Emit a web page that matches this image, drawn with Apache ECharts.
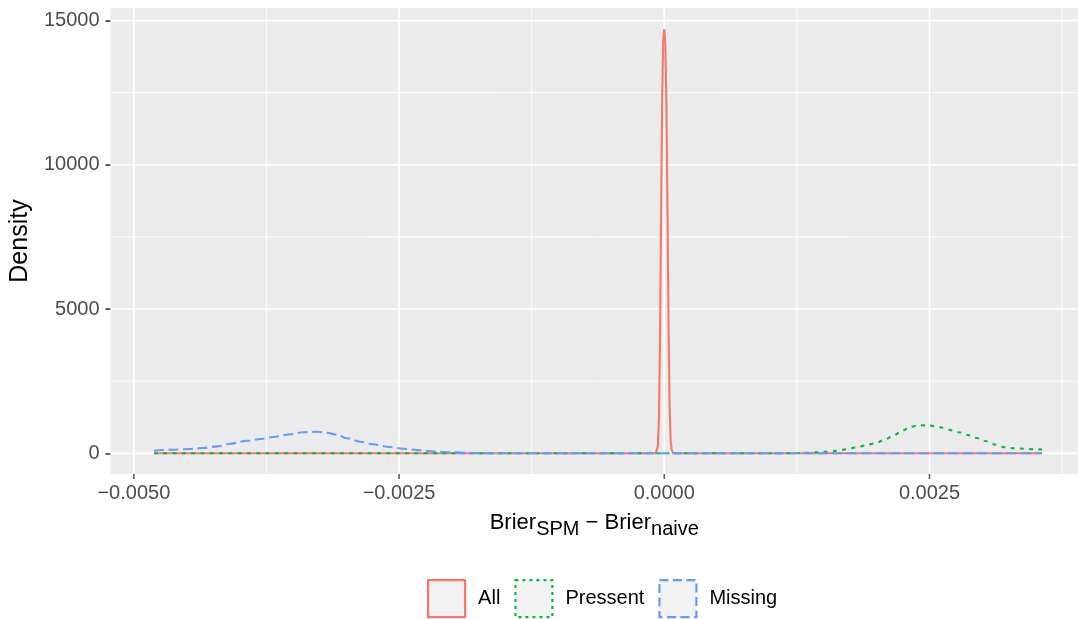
<!DOCTYPE html>
<html>
<head>
<meta charset="utf-8">
<script src="https://cdn.jsdelivr.net/npm/echarts@6/dist/echarts.min.js"></script>
<style>
html,body{margin:0;padding:0;background:#fff;}
#chart{width:1078px;height:619px;}
</style>
</head>
<body>
<div id="chart"></div>
<script>
// ---- data ----
const seriesNames = ['All', 'Pressent', 'Missing'];
const seriesColors = ['#F8766D', '#00BA38', '#619CFF'];

const allX = [-0.00481, -0.0001, -0.00008, -0.00007, -0.00006, -0.00005, -0.00004, -0.00003, -0.00002, -0.00001, 0, 0.00001, 0.00002, 0.00003, 0.00004, 0.00005, 0.00006, 0.00007, 0.00008, 0.00009, 0.0001, 0.00356];
const allY = [0, 0, 5, 40, 250, 1200, 4000, 8300, 12200, 14300, 14700, 14200, 12100, 8600, 4600, 1700, 450, 110, 30, 8, 0, 0];

const presX = [-0.00481, 0.00100, 0.001153, 0.001248, 0.001342, 0.001436, 0.001530, 0.001624, 0.001719, 0.001813, 0.001900, 0.001988, 0.002073, 0.002158, 0.002240, 0.002320, 0.002409, 0.002503, 0.002597, 0.002685, 0.002774, 0.002862, 0.002949, 0.003038, 0.003125, 0.003210, 0.003298, 0.003389, 0.003477, 0.00356];
const presY = [0, 0, 5, 10, 20, 35, 55, 90, 140, 208, 277, 347, 461, 610, 773, 915, 975, 960, 901, 818, 728, 634, 530, 416, 298, 208, 173, 160, 140, 130];

const missX = [-0.00481, -0.004629, -0.004469, -0.004346, -0.004214, -0.004092, -0.003932, -0.003809, -0.003687, -0.003527, -0.003404, -0.003272, -0.003178, -0.003084, -0.002990, -0.002867, -0.002745, -0.002585, -0.002462, -0.002302, -0.002142, -0.002020, -0.001831, -0.001577, 0.00356];
const missY = [90, 125, 150, 185, 240, 333, 437, 495, 565, 658, 728, 750, 714, 640, 520, 402, 312, 218, 160, 104, 55, 35, 10, 0, 0];

const xTickValues = [-0.005, -0.0025, 0, 0.0025];
const xTickLabels = ['\u22120.0050', '\u22120.0025', '0.0000', '0.0025'];
const xMinorValues = [-0.00375, -0.00125, 0.00125, 0.00375];
const yTickValues = [0, 5000, 10000, 15000];
const yTickLabels = ['0', '5000', '10000', '15000'];
const yMinorValues = [2500, 7500, 12500];

const xRange = [-0.00522, 0.0039];
const yRange = [-717, 15435];

// ---- build ----
function pairs(xs, ys) { return xs.map((x, i) => [x, ys[i]]); }
function labelFor(vals, labels) {
  return function (v) {
    let best = 0;
    for (let i = 1; i < vals.length; i++) if (Math.abs(vals[i] - v) < Math.abs(vals[best] - v)) best = i;
    return labels[best];
  };
}

const series = [];
function gridSeries(data, width) {
  series.push({
    type: 'line', data: data, z: 1, silent: true, showSymbol: false, symbol: 'none',
    lineStyle: { color: '#ffffff', width: width }, animation: false, tooltip: { show: false }
  });
}
xTickValues.forEach(v => gridSeries([[v, yRange[0]], [v, yRange[1]]], 1.7));
xMinorValues.forEach(v => gridSeries([[v, yRange[0]], [v, yRange[1]]], 0.9));
yTickValues.forEach(v => gridSeries([[xRange[0], v], [xRange[1], v]], 1.7));
yMinorValues.forEach(v => gridSeries([[xRange[0], v], [xRange[1], v]], 0.9));

// x-axis tick marks below the panel
series.push({
  type: 'scatter', data: xTickValues.map(v => [v, yRange[0]]), symbol: 'rect',
  symbolSize: [1.6, 5], symbolOffset: [0, 2.5], clip: false, silent: true, z: 6,
  itemStyle: { color: '#333333' }, animation: false
});

const dashes = ['solid', [4, 5.3], [10, 4.5]];
const legendDashes = ['solid', [3, 4], [9, 4.5]];
const dataSets = [pairs(allX, allY), pairs(presX, presY), pairs(missX, missY)];

seriesNames.forEach((n, i) => {
  series.push({
    name: n, type: 'line', data: dataSets[i], showSymbol: false, symbol: 'none',
    smooth: i === 0 ? false : 0.3, smoothMonotone: 'x', z: 3 + i,
    lineStyle: { color: seriesColors[i], width: 2.1, type: dashes[i] },
    itemStyle: { color: seriesColors[i] }, animation: false
  });
});

const FF = 'Liberation Sans, Arial, sans-serif';
const chart = echarts.init(document.getElementById('chart'), null, { renderer: 'canvas' });
chart.setOption({
  animation: false,
  backgroundColor: '#ffffff',
  textStyle: { fontFamily: FF },
  grid: { left: 110, right: 0, top: 8, bottom: 145, show: true, backgroundColor: '#EBEBEB', borderWidth: 0 },
  xAxis: {
    type: 'value', min: xRange[0], max: xRange[1],
    axisLine: { show: false, onZero: false },
    axisTick: { show: false },
    axisLabel: { customValues: xTickValues, formatter: labelFor(xTickValues, xTickLabels), color: '#4D4D4D', fontSize: 20, margin: 9 },
    splitLine: { show: false },
    name: '{a|Brier}{b|SPM}{a| \u2212 Brier}{b|naive}',
    nameLocation: 'middle', nameGap: 33,
    nameTextStyle: {
      rich: {
        a: { fontSize: 22, color: '#000', fontFamily: FF },
        b: { fontSize: 20, color: '#000', padding: [12, 0, 0, 0], fontFamily: FF }
      }
    }
  },
  yAxis: {
    type: 'value', min: yRange[0], max: yRange[1],
    axisLine: { show: false, onZero: false },
    axisTick: { show: true, length: 5, lineStyle: { color: '#333333', width: 1.6 }, customValues: yTickValues },
    axisLabel: { customValues: yTickValues, formatter: labelFor(yTickValues, yTickLabels), color: '#4D4D4D', fontSize: 20, margin: 11 },
    splitLine: { show: false },
    name: 'Density', nameLocation: 'middle', nameRotate: 90, nameGap: 74,
    nameTextStyle: { fontSize: 25, color: '#000' }
  },
  legend: {
    left: 427, top: 579, padding: 0, itemGap: 14, itemWidth: 37, itemHeight: 37, icon: 'rect',
    textStyle: { fontSize: 20, color: '#000', padding: [0, 0, 0, 8] },
    data: seriesNames.map((n, i) => ({
      name: n, icon: 'rect',
      itemStyle: { color: '#F2F2F2', borderColor: seriesColors[i], borderWidth: 2.2, borderType: legendDashes[i] }
    })),
    selectedMode: false
  },
  series: series
});
</script>
</body>
</html>
